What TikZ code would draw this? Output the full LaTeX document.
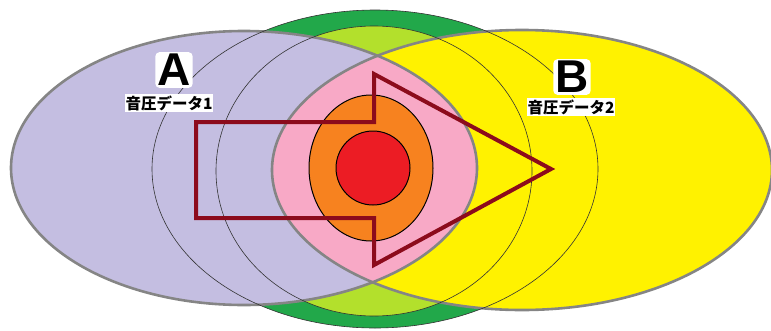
\documentclass[tikz,border=0pt]{standalone}
\usepackage{fontspec}
\newfontfamily\jp{Noto Sans CJK JP}
\newfontfamily\bigsans{Liberation Sans}
\definecolor{lav}{HTML}{C4BEE1}
\definecolor{yel}{HTML}{FFF200}
\definecolor{pnk}{HTML}{F8A9C6}
\definecolor{dgreen}{HTML}{22A84A}
\definecolor{lgreen}{HTML}{B3E02C}
\definecolor{orng}{HTML}{F7821F}
\definecolor{redc}{HTML}{EC1C24}
\definecolor{arrowc}{HTML}{8C0B1C}
\definecolor{rim}{HTML}{858585}
\tikzset{
  rimline/.style={draw=rim,line width=2.6pt},
  thinline/.style={draw=black!80,line width=0.6pt},
  coreline/.style={draw=black,line width=1pt},
  biglabel/.style={font=\bigsans\bfseries\fontsize{46}{46}\selectfont,fill=white,inner sep=2pt,rounded corners=4pt},
  smalllabel/.style={font=\jp\bfseries\fontsize{15.5}{15.5}\selectfont,fill=white,inner sep=1pt}
}
\begin{document}
\begin{tikzpicture}[x=1pt,y=-1pt]
\useasboundingbox (0,0) rectangle (771,330);
% green rings
\fill[dgreen] (375,169) ellipse [x radius=223,y radius=159];
\fill[lgreen] (374,171) ellipse [x radius=158,y radius=145];
% A and B
\fill[lav] (244,168) ellipse [x radius=233,y radius=137];
\fill[yel] (522,170) ellipse [x radius=250,y radius=140];
\begin{scope}
  \clip (244,168) ellipse [x radius=233,y radius=137];
  \fill[pnk] (522,170) ellipse [x radius=250,y radius=140];
\end{scope}
\draw[rimline] (244,168) ellipse [x radius=233,y radius=137];
\draw[rimline] (522,170) ellipse [x radius=250,y radius=140];
% thin ring outlines
\draw[thinline] (375,169) ellipse [x radius=223,y radius=159];
\draw[thinline] (374,171) ellipse [x radius=158,y radius=145];
% core
\draw[coreline,fill=orng] (371,168) ellipse [x radius=62,y radius=73];
\draw[coreline,fill=redc] (373,168) ellipse [x radius=37,y radius=37];
% arrow
\coordinate (p1) at (196,122);
\coordinate (p2) at (374,122);
\coordinate (p3) at (374,74);
\coordinate (p4) at (551,169);
\coordinate (p5) at (374,265);
\coordinate (p6) at (374,218);
\coordinate (p7) at (196,218);
\draw[arrowc,line width=4pt,line join=miter] (p1) -- (p2) -- (p3) -- (p4) -- (p5) -- (p6) -- (p7) -- cycle;
% labels
\node[biglabel] (A) at (174,70) {A};
\node[smalllabel] (a1) at (169,103) {音圧データ1};
\node[biglabel] (B) at (572,77) {B};
\node[smalllabel] (b1) at (571,107) {音圧データ2};
\end{tikzpicture}
\end{document}
